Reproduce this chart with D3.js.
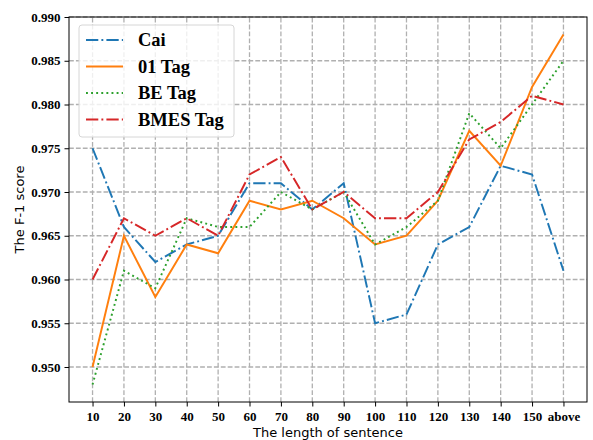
<!DOCTYPE html>
<html>
<head>
<meta charset="utf-8">
<script src="https://cdn.jsdelivr.net/npm/d3@7"></script>
<style>
  body { margin: 0; background: #fff; }
  .tick text { font-family: "Liberation Serif", serif; font-weight: bold; font-size: 13px; fill: #000; }
  .axislabel { font-family: "DejaVu Sans", sans-serif; font-size: 13px; fill: #000; }
  .legend text { font-family: "Liberation Serif", serif; font-weight: bold; font-size: 18.5px; }
</style>
</head>
<body>
<svg id="chart" width="593" height="440"></svg>
<script>
// categories on the x axis
var lengths = ["10", "20", "30", "40", "50", "60", "70", "80", "90", "100", "110", "120", "130", "140", "150", "above"];

// F-1 scores per method
var cai      = [0.975, 0.966, 0.962, 0.964, 0.965, 0.971, 0.971, 0.968, 0.971, 0.955, 0.956, 0.964, 0.966, 0.973, 0.972, 0.961];
var tag01    = [0.950, 0.965, 0.958, 0.964, 0.963, 0.969, 0.968, 0.969, 0.967, 0.964, 0.965, 0.969, 0.977, 0.973, 0.982, 0.988];
var tagBE    = [0.948, 0.961, 0.959, 0.967, 0.966, 0.966, 0.970, 0.968, 0.970, 0.964, 0.966, 0.969, 0.979, 0.975, 0.980, 0.985];
var tagBMES  = [0.960, 0.967, 0.965, 0.967, 0.965, 0.972, 0.974, 0.968, 0.970, 0.967, 0.967, 0.970, 0.976, 0.978, 0.981, 0.980];

var yTicks = [0.950, 0.955, 0.960, 0.965, 0.970, 0.975, 0.980, 0.985, 0.990];

var series = [
    { name: "Cai",      values: cai,     color: "#1f77b4", dash: "12.3,3.1,1.9,3.1" },
    { name: "01 Tag",   values: tag01,   color: "#ff7f0e", dash: null },
    { name: "BE Tag",   values: tagBE,   color: "#2ca02c", dash: "1.9,3.2" },
    { name: "BMES Tag", values: tagBMES, color: "#d62728", dash: "12.3,3.1,1.9,3.1" }
];

var margin = { left: 69, right: 6, top: 17, bottom: 38 };
var width = 593, height = 440;

var svg = d3.select("#chart");

var x = d3.scaleLinear()
    .domain([-0.75, lengths.length - 1 + 0.75])
    .range([margin.left, width - margin.right]);

var y = d3.scaleLinear()
    .domain([0.946, 0.990])
    .range([height - margin.bottom, margin.top]);

// grid
var grid = svg.append("g").attr("class", "grid");
grid.selectAll("line.gx")
    .data(d3.range(lengths.length))
    .enter().append("line")
    .attr("x1", function(d) { return x(d); })
    .attr("x2", function(d) { return x(d); })
    .attr("y1", y.range()[0])
    .attr("y2", y.range()[1]);
grid.selectAll("line.gy")
    .data(yTicks)
    .enter().append("line")
    .attr("x1", x.range()[0])
    .attr("x2", x.range()[1])
    .attr("y1", function(d) { return y(d); })
    .attr("y2", function(d) { return y(d); });
grid.selectAll("line")
    .style("stroke", "#b0b0b0")
    .style("stroke-width", 1.3)
    .style("stroke-dasharray", "4.8,2.1");

// lines
var line = d3.line()
    .x(function(d, i) { return x(i); })
    .y(function(d) { return y(d); });

svg.append("g")
    .selectAll("path")
    .data(series)
    .enter().append("path")
    .attr("d", function(d) { return line(d.values); })
    .style("fill", "none")
    .style("stroke", function(d) { return d.color; })
    .style("stroke-width", 1.95)
    .style("stroke-dasharray", function(d) { return d.dash; });

// axes
var xAxis = d3.axisBottom(x)
    .tickValues(d3.range(lengths.length))
    .tickFormat(function(d) { return lengths[d]; })
    .tickSizeOuter(0)
    .tickSize(4.5)
    .tickPadding(5);
var yAxis = d3.axisLeft(y)
    .tickValues(yTicks)
    .tickFormat(d3.format(".3f"))
    .tickSizeOuter(0)
    .tickSize(4.5)
    .tickPadding(4);

svg.append("g")
    .attr("transform", "translate(0," + y.range()[0] + ")")
    .call(xAxis)
    .call(function(g) { g.select(".domain").remove(); });
svg.append("g")
    .attr("transform", "translate(" + x.range()[0] + ",0)")
    .call(yAxis)
    .call(function(g) { g.select(".domain").remove(); });

svg.selectAll(".tick line").style("stroke", "#000").style("stroke-width", 1);

// frame
svg.append("rect")
    .attr("x", x.range()[0])
    .attr("y", y.range()[1])
    .attr("width", x.range()[1] - x.range()[0])
    .attr("height", y.range()[0] - y.range()[1])
    .style("fill", "none")
    .style("stroke", "#000")
    .style("stroke-width", 1);

// axis labels
svg.append("text")
    .attr("class", "axislabel")
    .attr("x", (x.range()[0] + x.range()[1]) / 2)
    .attr("y", 437)
    .attr("text-anchor", "middle")
    .text("The length of sentence");
svg.append("text")
    .attr("class", "axislabel")
    .attr("transform", "translate(24," + (y.range()[0] + y.range()[1]) / 2 + ")rotate(-90)")
    .attr("text-anchor", "middle")
    .text("The F-1 score");

// legend
var legend = svg.append("g").attr("class", "legend");
legend.append("rect")
    .attr("x", 79).attr("y", 25)
    .attr("width", 155).attr("height", 112)
    .attr("rx", 3)
    .style("fill", "#fff")
    .style("fill-opacity", 0.8)
    .style("stroke", "#d6d6d6")
    .style("stroke-width", 1);

var items = legend.selectAll("g.item")
    .data(series)
    .enter().append("g")
    .attr("transform", function(d, i) { return "translate(0," + (40 + i * 26.5) + ")"; });
items.append("line")
    .attr("x1", 86).attr("x2", 123)
    .attr("y1", 0).attr("y2", 0)
    .style("stroke", function(d) { return d.color; })
    .style("stroke-width", 1.95)
    .style("stroke-dasharray", function(d) { return d.dash; });
items.append("text")
    .attr("x", 138)
    .attr("y", 6)
    .text(function(d) { return d.name; });
</script>
</body>
</html>
